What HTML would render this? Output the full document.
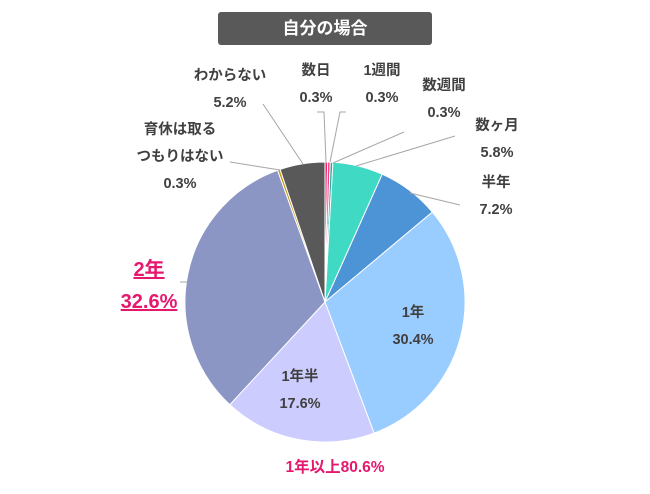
<!DOCTYPE html>
<html><head><meta charset="utf-8"><style>
body{margin:0;background:#fff;width:650px;height:494px;overflow:hidden;font-family:"Liberation Sans","Noto Sans CJK JP",sans-serif}
.t{position:absolute;left:218px;top:12px;width:214px;height:33px;background:#595959;border-radius:3px;color:#fff;font-weight:bold;font-size:17px;line-height:33px;text-align:center}
.l{position:absolute;font-size:14.5px;font-weight:bold;color:#404040;text-align:center;line-height:27px;width:120px;margin-left:-60px}
</style></head><body>
<div class="t">自分の場合</div>
<svg width="650" height="494" style="position:absolute;left:0;top:0">
<g id="pie"></g>
<g stroke="#a6a6a6" stroke-width="1" fill="none">
<polyline points="326,162 324,112 317,112"/>
<polyline points="330,162 340,112 346,112"/>
<polyline points="333,163 404,132"/>
<polyline points="356,166 455,136 455,136"/>
<polyline points="410,193 460,205"/>
<polyline points="303,164 263,104"/>
<polyline points="280,170 230,162"/>
<polyline points="187,282 180,282"/>
</g>
</svg>
<div class="l" style="left:316px;top:58px">数日<br>0.3%</div>
<div class="l" style="left:382px;top:58px">1週間<br>0.3%</div>
<div class="l" style="left:444px;top:73px">数週間<br>0.3%</div>
<div class="l" style="left:497px;top:113px">数ヶ月<br>5.8%</div>
<div class="l" style="left:496px;top:170px">半年<br>7.2%</div>
<div class="l" style="left:230px;top:63px">わからない<br>5.2%</div>
<div class="l" style="left:180px;top:117px">育休は取る<br>つもりはない<br>0.3%</div>
<div class="l" style="left:413px;top:300px">1年<br>30.4%</div>
<div class="l" style="left:300px;top:364px">1年半<br>17.6%</div>
<div class="l" style="left:149px;top:254px;font-size:20px;color:#e6186e;text-decoration:underline;line-height:32px">2年<br>32.6%</div>
<div class="l" style="left:335px;top:454px;font-size:15.5px;color:#e6186e;width:160px;margin-left:-80px">1年以上80.6%</div>
<script>
var d=[[0.3,"#ff1a6e"],[0.3,"#e8457d"],[0.3,"#2aa8a0"],[5.8,"#40d9c4"],[7.2,"#4d94d6"],[30.4,"#99ccff"],[17.6,"#ccccff"],[32.6,"#8b96c4"],[0.3,"#c79a14"],[5.2,"#595959"]];
var cx=325,cy=302,r=140,a=0,s="";
d.forEach(function(e){var a1=a+e[0]/100*2*Math.PI;
var x0=cx+r*Math.sin(a),y0=cy-r*Math.cos(a),x1=cx+r*Math.sin(a1),y1=cy-r*Math.cos(a1);
s+='<path d="M'+cx+','+cy+'L'+x0+','+y0+'A'+r+','+r+' 0 '+(a1-a>Math.PI?1:0)+' 1 '+x1+','+y1+'Z" fill="'+e[1]+'" stroke="#fff" stroke-width="1"/>';a=a1;});
document.getElementById("pie").innerHTML=s;
</script>
</body></html>
